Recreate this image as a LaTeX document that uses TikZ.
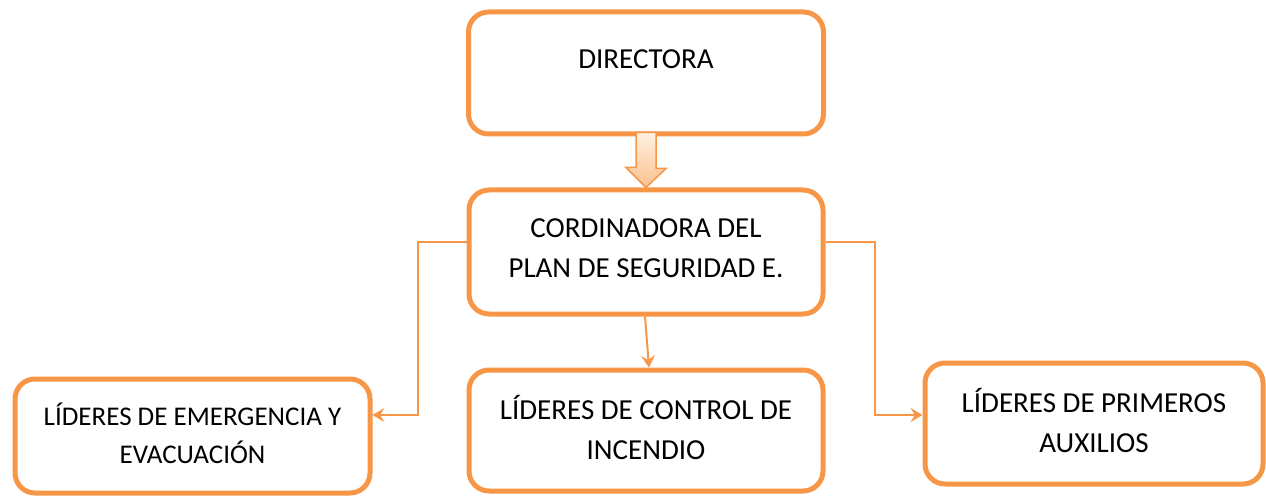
\documentclass[tikz,border=0pt]{standalone}
\usepackage{fontspec}
\setmainfont{Carlito}
\usetikzlibrary{arrows.meta}
\definecolor{naranja}{HTML}{F79646}
\definecolor{durazno}{HTML}{FBC08E}
\definecolor{crema}{HTML}{FFF0E3}

\begin{document}
\begin{tikzpicture}[x=1pt, y=-1pt,
  caja/.style={draw=naranja, line width=5pt, rounded corners=20pt, inner sep=0pt},
  rotulo/.style={align=center, font=\fontsize{29}{40}\selectfont},
  enlace/.style={draw=naranja, line width=2pt, -{Stealth[length=12pt, width=14pt, inset=4.5pt]}},
  bloque/.style={draw=naranja, line width=1.5pt, top color=crema, bottom color=durazno}]
\useasboundingbox (0,0) rectangle (1266,497);
\node [caja, minimum width=355pt, minimum height=122pt, label={[rotulo, yshift=14pt]center:DIRECTORA}] (dir) at (646,73) {};
\node [caja, minimum width=354pt, minimum height=124pt, label={[rotulo, yshift=4pt]center:CORDINADORA DEL\\PLAN DE SEGURIDAD E.}] (cord) at (646,252) {};
\node [caja, minimum width=355pt, minimum height=114pt, label={[rotulo, font=\fontsize{27}{38}\selectfont, yshift=3pt]center:LÍDERES DE EMERGENCIA Y\\EVACUACIÓN}] (emer) at (192.5,436) {};
\node [caja, minimum width=354pt, minimum height=121pt, label={[rotulo, yshift=3pt]center:LÍDERES DE CONTROL DE\\INCENDIO}] (ctrl) at (646,430.5) {};
\node [caja, minimum width=338pt, minimum height=121pt, label={[rotulo, yshift=3pt]center:LÍDERES DE PRIMEROS\\AUXILIOS}] (prim) at (1094,423.5) {};
\draw [bloque] ([xshift=-10pt,yshift=4pt]dir.south) -- ++(20pt,0) -- ++(0,-36pt) -- ++(10pt,0) -- (cord.north) -- ++(-20pt,20pt) -- ++(10pt,0) -- cycle;
\draw [enlace] ([yshift=10pt]cord.west) -- ++(-48.5pt,0) |- ([yshift=21pt]emer.east);
\draw [enlace] ([yshift=10pt]cord.east) -- ++(49.5pt,0) |- ([yshift=8.5pt]prim.west);
\draw [enlace] ([xshift=-1pt]cord.south) -- ([xshift=3pt]ctrl.north);
\end{tikzpicture}
\end{document}
